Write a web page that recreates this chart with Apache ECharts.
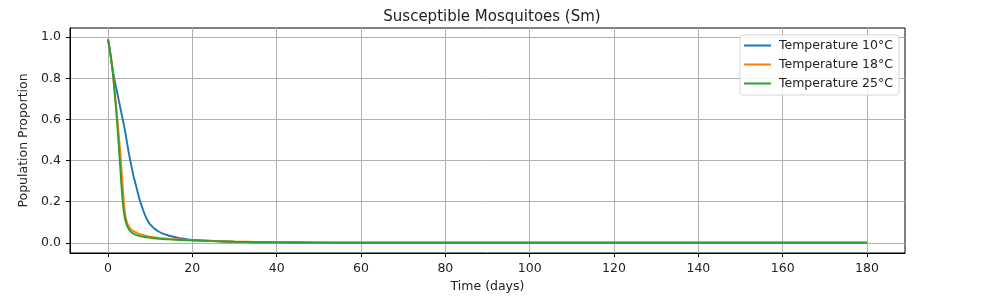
<!DOCTYPE html>
<html><head><meta charset="utf-8">
<script src="https://cdn.jsdelivr.net/npm/echarts@6/dist/echarts.min.js"></script>
<style>html,body{margin:0;padding:0;background:#fff}#c{width:993px;height:308px}</style>
</head><body><div id="c"></div>
<script>
const days = [0,0.5,1,1.5,2,2.5,3,3.5,4,4.5,5,5.5,6,6.5,7,7.5,8,8.5,9,9.5,10,
  11,12,13,14,15,16,17,18,19,20,25,30,35,40,50,60,80,100,120,140,160,180];
const temp10 = [0.99,0.93,0.86,0.80,0.75,0.70,0.65,0.60,0.55,0.49,0.43,0.38,0.33,0.29,0.25,0.21,0.18,0.15,0.125,0.105,0.09,
  0.07,0.055,0.045,0.038,0.032,0.027,0.023,0.02,0.017,0.015,0.009,0.005,0.003,0.002,0.001,0.0006,0.0003,0.0002,0.0001,0.0001,0.0001,0.0001];
const temp18 = [0.99,0.93,0.86,0.76,0.65,0.54,0.42,0.27,0.15,0.10,0.078,0.065,0.057,0.052,0.047,0.043,0.04,0.037,0.034,0.032,0.03,
  0.027,0.024,0.022,0.02,0.018,0.017,0.016,0.015,0.014,0.013,0.009,0.006,0.004,0.003,0.0015,0.0008,0.0003,0.0002,0.0001,0.0001,0.0001,0.0001];
const temp25 = [0.99,0.93,0.85,0.75,0.63,0.49,0.34,0.20,0.12,0.085,0.065,0.052,0.045,0.04,0.036,0.033,0.031,0.029,0.027,0.026,0.025,
  0.022,0.02,0.018,0.017,0.016,0.015,0.014,0.013,0.012,0.011,0.008,0.005,0.003,0.002,0.001,0.0005,0.0002,0.0001,0.0001,0.0001,0.0001,0.0001];
const seriesNames = ['Temperature 10°C','Temperature 18°C','Temperature 25°C'];
const xTicks = [0,20,40,60,80,100,120,140,160,180];
const yTicks = [0,0.2,0.4,0.6,0.8,1.0];

const colors = ['#1f77b4','#ff7f0e','#2ca02c'];
const font = 'DejaVu Sans';
const txt = '#222';
const chart = echarts.init(document.getElementById('c'), null, {renderer:'canvas'});
const mk = (arr)=>days.map((d,i)=>[d,arr[i]]);
chart.setOption({
  animation:false,
  color: colors,
  title:{text:'Susceptible Mosquitoes (Sm)', left:487, top:5, textAlign:'center',
    textStyle:{fontFamily:font,fontSize:15,fontWeight:'normal',color:txt}},
  grid:{left:70,right:88,top:28,bottom:55,show:true,borderColor:'#000',borderWidth:1,backgroundColor:'transparent'},
  legend:{orient:'vertical', right:94, top:35, itemWidth:27, itemHeight:2, itemGap:6, icon:'rect',
    padding:[4,6,5,4], backgroundColor:'rgba(255,255,255,0.85)', borderColor:'#d6d6d6', borderWidth:1, borderRadius:3,
    textStyle:{fontFamily:font,fontSize:12.5,color:txt,padding:[0,0,0,3]}, data:seriesNames},
  xAxis:{type:'value', min:-9, max:189, name:'Time (days)', nameLocation:'middle', nameGap:26,
    nameTextStyle:{fontFamily:font,fontSize:12.5,color:txt},
    axisLine:{show:true,onZero:false,lineStyle:{color:'#000',width:1}},
    axisTick:{show:true,inside:false,customValues:xTicks,length:4,lineStyle:{color:'#000'}},
    axisLabel:{customValues:xTicks,fontFamily:font,fontSize:12.5,color:txt,margin:9},
    splitLine:{show:true,lineStyle:{color:'#b0b0b0',width:1}}},
  yAxis:{type:'value', min:-0.0495, max:1.0445, name:'Population Proportion', nameLocation:'middle', nameGap:36,
    nameTextStyle:{fontFamily:font,fontSize:12.5,color:txt},
    axisLine:{show:true,onZero:false,lineStyle:{color:'#000',width:1}},
    axisTick:{show:true,inside:false,customValues:yTicks,length:4,lineStyle:{color:'#000'}},
    axisLabel:{customValues:yTicks,fontFamily:font,fontSize:12.5,color:txt,margin:9,formatter:v=>v.toFixed(1)},
    splitLine:{show:true,lineStyle:{color:'#b0b0b0',width:1}}},
  series:[temp10,temp18,temp25].map((arr,i)=>({
    name:seriesNames[i], type:'line', data:mk(arr), symbol:'none', showSymbol:false, smooth:0.3,
    lineStyle:{width:1.9,color:colors[i]}, itemStyle:{color:colors[i]}
  }))
});
</script></body></html>
